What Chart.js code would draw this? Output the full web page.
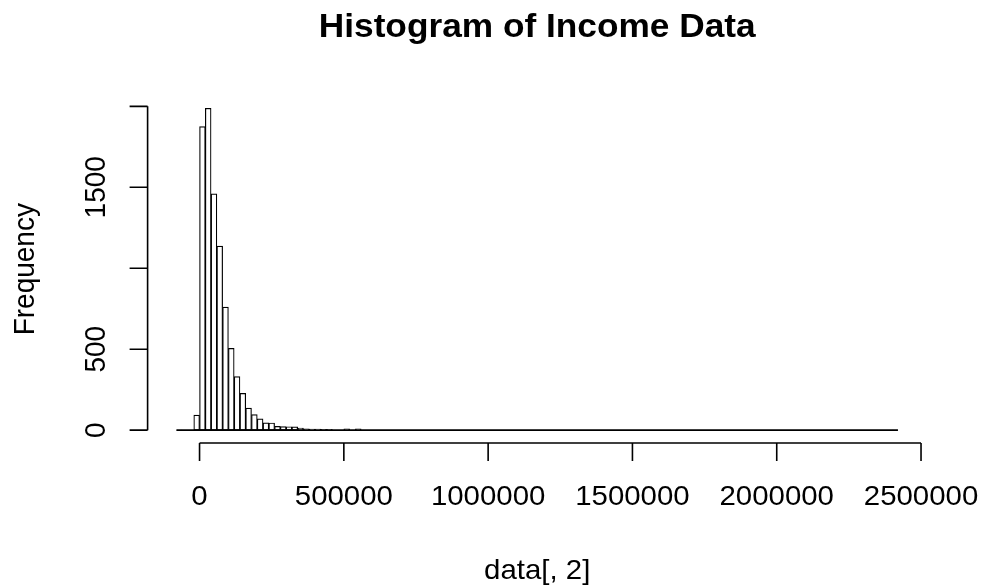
<!DOCTYPE html>
<html>
<head>
<meta charset="utf-8">
<script src="https://cdn.jsdelivr.net/npm/chart.js@4.4.1/dist/chart.umd.min.js"></script>
<style>
  html, body { margin: 0; padding: 0; background: #ffffff; }
  #wrap { width: 982px; height: 588px; position: relative; }
</style>
</head>
<body>
<div id="wrap"><canvas id="c" width="982" height="588"></canvas></div>
<script>
// ---- data ----
const chartTitle = "Histogram of Income Data";
const xAxisTitle = "data[, 2]";
const yAxisTitle = "Frequency";

// histogram breaks: first break and bin width
const firstBreak = -80000;
const binWidth = 20000;

// frequency per bin (125 bins, from -80000 to 2420000)
const counts = [
  1, 0, 0, 93, 1875, 1988, 1459, 1137, 760, 505,
  330, 227, 136, 96, 70, 45, 44, 23, 22, 21,
  20, 12, 8, 7, 6, 5, 5, 0, 0, 8,
  0, 8, 0, 0, 0, 0, 0, 0, 0, 0,
  0, 0, 0, 0, 0, 0, 0, 0, 0, 0,
  0, 0, 0, 0, 0, 0, 0, 0, 0, 0,
  0, 0, 0, 0, 0, 0, 0, 0, 0, 0,
  0, 0, 0, 0, 0, 0, 0, 0, 0, 0,
  0, 0, 0, 0, 0, 0, 0, 0, 0, 0,
  0, 0, 0, 0, 0, 0, 0, 0, 0, 0,
  0, 0, 0, 0, 0, 0, 0, 0, 0, 0,
  0, 0, 0, 0, 0, 0, 0, 0, 0, 0,
  0, 0, 0, 0, 1
];

// axis ticks and labels
const xTicks = [0, 500000, 1000000, 1500000, 2000000, 2500000];
const xTickLabels = ["0", "500000", "1000000", "1500000", "2000000", "2500000"];
const yTicks = [0, 500, 1000, 1500, 2000];
const yTickLabels = ["0", "500", "", "1500", ""];

// ---- build library structures ----
const binCenters = counts.map((_, i) => firstBreak + binWidth * (i + 0.5));
const lastBreak = firstBreak + binWidth * counts.length;
const barData = counts.map((c, i) => ({ x: binCenters[i], y: c }));
const baseData = [{ x: firstBreak, y: 0 }, { x: lastBreak, y: 0 }];

const xSpan = lastBreak - firstBreak;
const yMaxCount = Math.max(...counts);

const FONT = '"Liberation Sans", Arial, "DejaVu Sans", sans-serif';
const SX = 1.05; // horizontal stretch of the reference text

function stretchedText(ctx, txt, x, y, font, rotate) {
  ctx.save();
  ctx.translate(x, y);
  ctx.scale(SX, 1);
  if (rotate) ctx.rotate(-Math.PI / 2);
  ctx.font = font;
  ctx.fillStyle = '#000';
  ctx.textAlign = 'center';
  ctx.textBaseline = 'middle';
  ctx.fillText(txt, 0, 0);
  ctx.restore();
}

const rAxes = {
  id: 'rAxes',
  afterDraw(chart) {
    const ctx = chart.ctx;
    const xs = chart.scales.x, ys = chart.scales.y;
    const area = chart.chartArea;
    const tick = 18;
    ctx.save();
    ctx.strokeStyle = '#000';
    ctx.lineWidth = 1.6;
    ctx.lineCap = 'butt';
    // x axis
    const xb = area.bottom;
    ctx.beginPath();
    ctx.moveTo(xs.getPixelForValue(xTicks[0]), xb);
    ctx.lineTo(xs.getPixelForValue(xTicks[xTicks.length - 1]), xb);
    xTicks.forEach(v => {
      const px = xs.getPixelForValue(v);
      ctx.moveTo(px, xb);
      ctx.lineTo(px, xb + tick);
    });
    ctx.stroke();
    // y axis
    const yl = area.left;
    ctx.beginPath();
    ctx.moveTo(yl, ys.getPixelForValue(yTicks[0]));
    ctx.lineTo(yl, ys.getPixelForValue(yTicks[yTicks.length - 1]));
    yTicks.forEach(v => {
      const py = ys.getPixelForValue(v);
      ctx.moveTo(yl, py);
      ctx.lineTo(yl - tick, py);
    });
    ctx.stroke();
    ctx.restore();

    const tickFont = '28px ' + FONT;
    xTicks.forEach((v, i) => {
      stretchedText(ctx, xTickLabels[i], xs.getPixelForValue(v), 497, tickFont, false);
    });
    yTicks.forEach((v, i) => {
      if (yTickLabels[i]) stretchedText(ctx, yTickLabels[i], 97, ys.getPixelForValue(v), tickFont, true);
    });
    const midX = (area.left + area.right) / 2;
    const midY = (area.top + area.bottom) / 2;
    stretchedText(ctx, xAxisTitle, midX, 571, tickFont, false);
    stretchedText(ctx, yAxisTitle, 26, midY, tickFont, true);
    stretchedText(ctx, chartTitle, midX, 28, 'bold 33.6px ' + FONT, false);
  }
};

new Chart(document.getElementById('c'), {
  data: {
    datasets: [
      {
        type: 'bar',
        data: barData,
        backgroundColor: '#ffffff',
        borderColor: '#000000',
        borderWidth: 1.2,
        borderSkipped: false,
        barPercentage: 1,
        categoryPercentage: 1,
        grouped: false,
        order: 2
      },
      {
        type: 'line',
        data: baseData,
        borderColor: '#000000',
        borderWidth: 1.6,
        pointRadius: 0,
        fill: false,
        order: 1
      }
    ]
  },
  options: {
    responsive: false,
    animation: false,
    devicePixelRatio: 1,
    layout: { padding: { left: 147.6, right: 55.2, top: 95.4, bottom: 145 } },
    plugins: { legend: { display: false }, title: { display: false }, tooltip: { enabled: false } },
    scales: {
      x: { type: 'linear', display: false, offset: false, min: firstBreak - 0.04 * xSpan, max: lastBreak + 0.04 * xSpan },
      y: { type: 'linear', display: false, offset: false, min: -0.04 * yMaxCount, max: 1.04 * yMaxCount }
    }
  },
  plugins: [rAxes]
});
</script>
</body>
</html>
